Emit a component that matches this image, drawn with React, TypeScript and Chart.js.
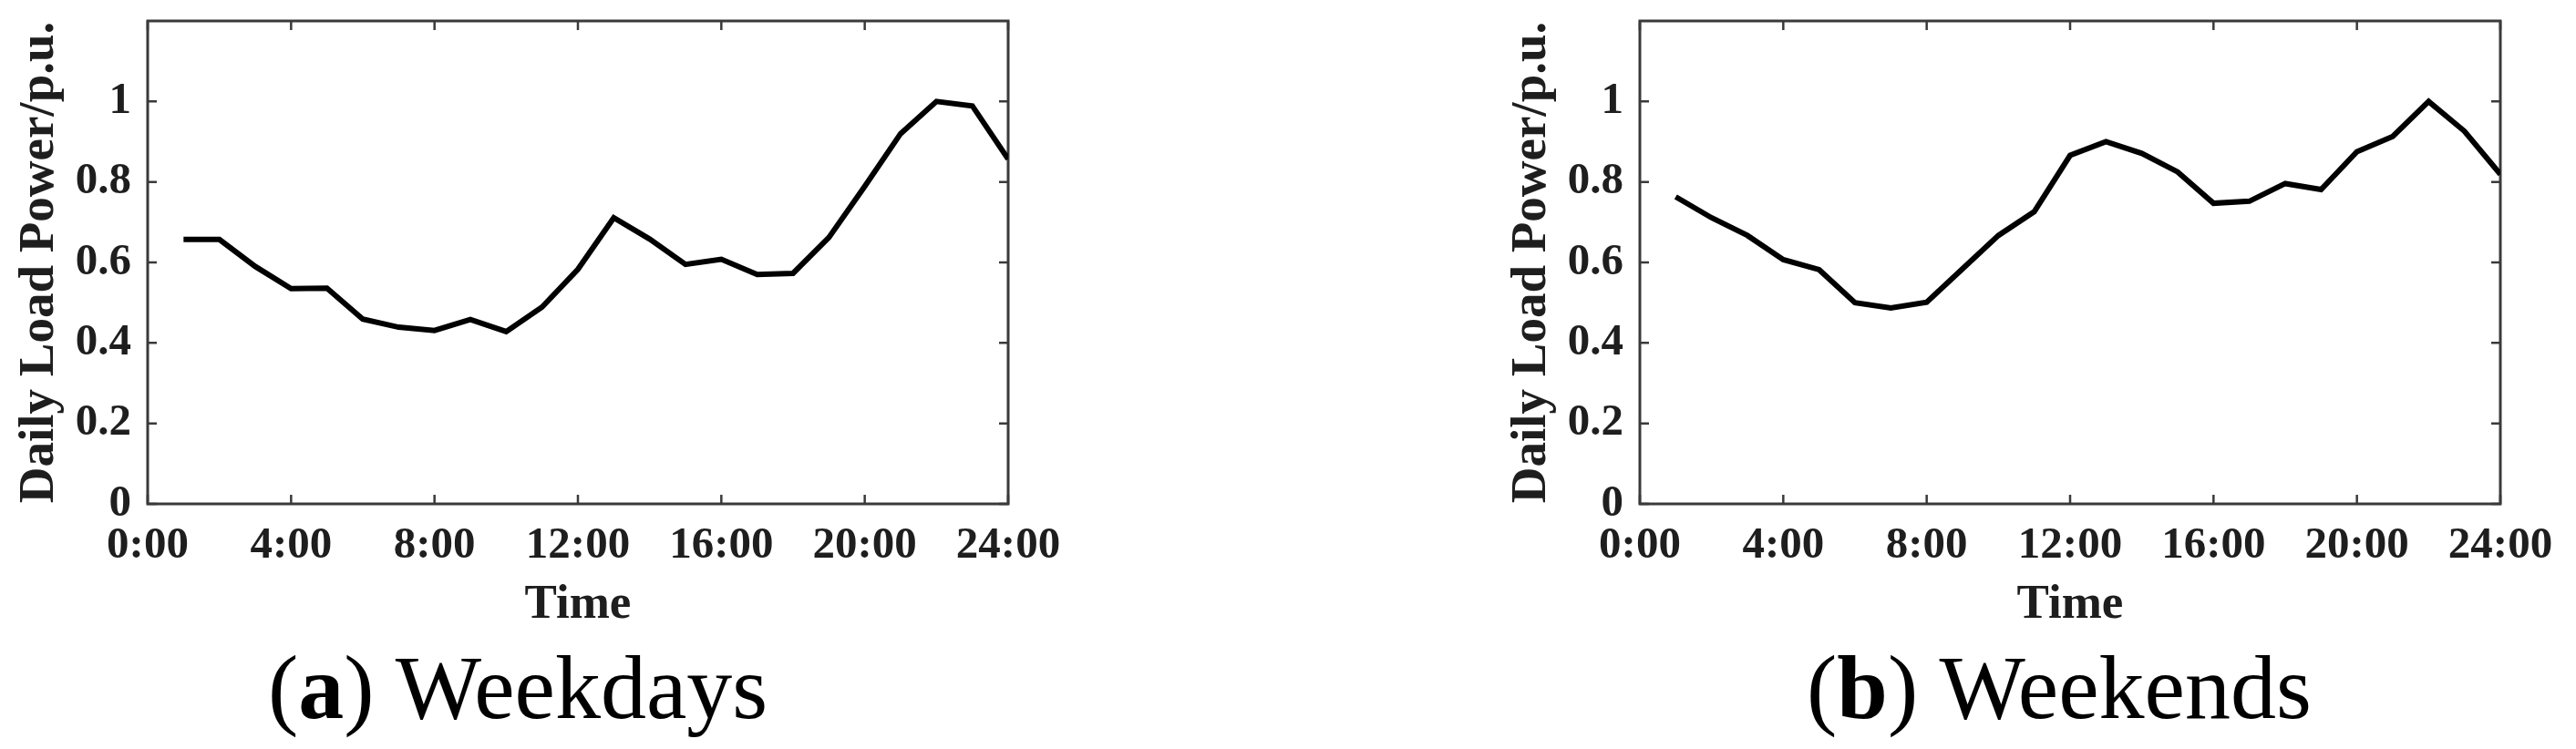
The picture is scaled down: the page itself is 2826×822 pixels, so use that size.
import React, { useEffect, useRef } from 'react';
import { Chart, registerables } from 'chart.js';

Chart.register(...registerables);

// ---- data ----
const HOURS = [1, 2, 3, 4, 5, 6, 7, 8, 9, 10, 11, 12, 13, 14, 15, 16, 17, 18, 19, 20, 21, 22, 23, 24];
const WEEKDAY_LOAD = [0.657, 0.657, 0.590, 0.535, 0.536, 0.459, 0.439, 0.431, 0.458, 0.428, 0.489, 0.583, 0.711, 0.658, 0.595, 0.608, 0.570, 0.573, 0.662, 0.789, 0.920, 1.0, 0.989, 0.857];
const WEEKEND_LOAD = [0.763, 0.711, 0.667, 0.607, 0.582, 0.500, 0.487, 0.501, 0.584, 0.667, 0.726, 0.866, 0.900, 0.871, 0.825, 0.747, 0.752, 0.796, 0.781, 0.875, 0.913, 1.0, 0.926, 0.819];
const X_TICKS = [0, 4, 8, 12, 16, 20, 24];
const X_TICK_LABELS = ['0:00', '4:00', '8:00', '12:00', '16:00', '20:00', '24:00'];
const Y_TICKS = [0, 0.2, 0.4, 0.6, 0.8, 1];
const Y_TICK_LABELS = ['0', '0.2', '0.4', '0.6', '0.8', '1'];
const X_TITLE = 'Time';
const Y_TITLE = 'Daily Load Power/p.u.';

const FONT = "'Liberation Serif', 'Times New Roman', Times, serif";
const PLOT_LEFT = 162;
const PLOT_RIGHT = 1106;
const PLOT_TOP = 23;
const PLOT_BOTTOM = 553;
const CANVAS_H = 700;

const framePlugin = {
  id: 'matlabFrame',
  beforeDatasetsDraw(chart: any) {
    const { ctx, chartArea, scales } = chart;
    const { left, right, top, bottom } = chartArea;
    const x = scales.x;
    const y = scales.y;
    ctx.save();
    ctx.strokeStyle = '#3a3a3a';
    ctx.lineWidth = 3;
    ctx.strokeRect(left, top, right - left, bottom - top);
    ctx.lineWidth = 2.5;
    ctx.beginPath();
    const tl = 10;
    for (const v of X_TICKS) {
      const px = x.getPixelForValue(v);
      ctx.moveTo(px, bottom);
      ctx.lineTo(px, bottom - tl);
      ctx.moveTo(px, top);
      ctx.lineTo(px, top + tl);
    }
    for (const v of Y_TICKS) {
      const py = y.getPixelForValue(v);
      ctx.moveTo(left, py);
      ctx.lineTo(left + tl, py);
      ctx.moveTo(right, py);
      ctx.lineTo(right - tl, py);
    }
    ctx.stroke();
    ctx.restore();
  },
};

function Panel(props: { canvasLeft: number; canvasWidth: number; values: number[] }) {
  const ref = useRef<HTMLCanvasElement | null>(null);
  useEffect(() => {
    if (!ref.current) return;
    const chart = new Chart(ref.current, {
      type: 'line',
      data: {
        datasets: [
          {
            data: HOURS.map((h, i) => ({ x: h, y: props.values[i] })),
            borderColor: '#000000',
            borderWidth: 6,
            pointRadius: 0,
            tension: 0,
            fill: false,
            borderJoinStyle: 'miter',
          },
        ],
      },
      options: {
        animation: false,
        responsive: false,
        devicePixelRatio: 1,
        layout: { padding: { top: PLOT_TOP, right: props.canvasWidth - PLOT_RIGHT, bottom: 0, left: 0 } },
        plugins: { legend: { display: false }, tooltip: { enabled: false } },
        scales: {
          x: {
            type: 'linear',
            min: 0,
            max: 24,
            afterBuildTicks: (s: any) => {
              s.ticks = X_TICKS.map((v) => ({ value: v }));
            },
            afterFit: (s: any) => {
              s.height = CANVAS_H - PLOT_BOTTOM;
              s.paddingLeft = 0;
              s.paddingRight = 0;
            },
            grid: { display: false, drawTicks: false },
            border: { display: false },
            ticks: {
              autoSkip: false,
              maxRotation: 0,
              padding: 17,
              color: '#1e1e1e',
              font: { family: FONT, size: 49, weight: 'bold' },
              callback: (v: any) => X_TICK_LABELS[X_TICKS.indexOf(Number(v))],
            },
            title: {
              display: true,
              text: X_TITLE,
              color: '#1e1e1e',
              font: { family: FONT, size: 53, weight: 'bold' },
              padding: { top: 0, bottom: 4 },
            },
          },
          y: {
            type: 'linear',
            min: 0,
            max: 1.2,
            afterBuildTicks: (s: any) => {
              s.ticks = Y_TICKS.map((v) => ({ value: v }));
            },
            afterFit: (s: any) => {
              s.width = PLOT_LEFT;
              s.paddingTop = 0;
              s.paddingBottom = 0;
            },
            grid: { display: false, drawTicks: false },
            border: { display: false },
            ticks: {
              padding: 18,
              color: '#1e1e1e',
              font: { family: FONT, size: 49, weight: 'bold' },
              callback: (v: any) => Y_TICK_LABELS[Y_TICKS.indexOf(Number(v))],
            },
            title: {
              display: true,
              text: Y_TITLE,
              color: '#1e1e1e',
              font: { family: FONT, size: 55, weight: 'bold' },
              padding: { top: 11, bottom: 0 },
            },
          },
        },
      } as any,
      plugins: [framePlugin],
    });
    return () => chart.destroy();
  }, []);
  return (
    <canvas
      ref={ref}
      width={props.canvasWidth}
      height={CANVAS_H}
      style={{ position: 'absolute', left: props.canvasLeft, top: 0, width: props.canvasWidth, height: CANVAS_H }}
    />
  );
}

function Caption(props: { left: number; letter: string; text: string }) {
  return (
    <div
      style={{
        position: 'absolute',
        left: props.left,
        top: 705,
        fontFamily: FONT,
        fontSize: 100,
        lineHeight: '100px',
        whiteSpace: 'nowrap',
        color: '#000',
      }}
    >
      (<b>{props.letter}</b>) {props.text}
    </div>
  );
}

export default function App() {
  return (
    <div
      style={{
        position: 'absolute',
        left: 0,
        top: 0,
        width: 2826,
        height: 822,
        overflow: 'hidden',
        background: '#ffffff',
      }}
    >
      <Panel canvasLeft={0} canvasWidth={1200} values={WEEKDAY_LOAD} />
      <Panel canvasLeft={1637} canvasWidth={1189} values={WEEKEND_LOAD} />
      <Caption left={294} letter="a" text="Weekdays" />
      <Caption left={1982} letter="b" text="Weekends" />
    </div>
  );
}
